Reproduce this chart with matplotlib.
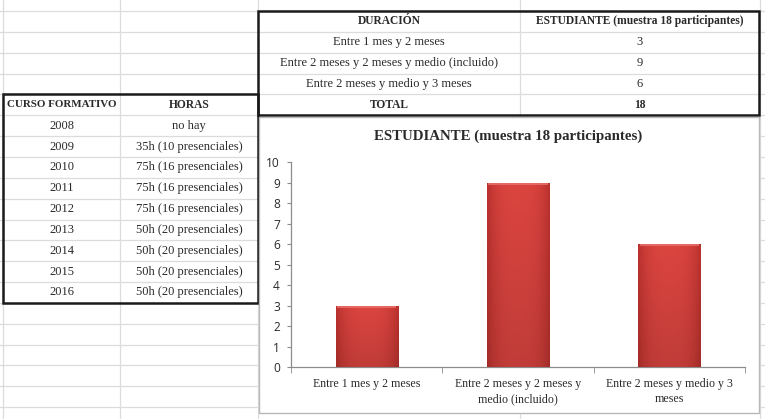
import numpy as np
import matplotlib
matplotlib.use("Agg")
import matplotlib.pyplot as plt
from matplotlib.patches import Rectangle

# ---------------- data ----------------
curso_years = ["2008", "2009", "2010", "2011", "2012", "2013", "2014", "2015", "2016"]
curso_horas = ["no hay", "35h (10 presenciales)", "75h (16 presenciales)", "75h (16 presenciales)",
               "75h (16 presenciales)", "50h (20 presenciales)", "50h (20 presenciales)",
               "50h (20 presenciales)", "50h (20 presenciales)"]
left_headers = ["CURSO FORMATIVO", "HORAS"]

duracion = ["Entre 1 mes y 2 meses", "Entre 2 meses y 2 meses y medio (incluido)",
            "Entre 2 meses y medio y 3 meses"]
estudiantes = [3, 9, 6]
total_label = "TOTAL"
total_value = 18
right_headers = ["DURACIÓN", "ESTUDIANTE (muestra 18 participantes)"]

chart_title = "ESTUDIANTE (muestra 18 participantes)"
chart_categories = ["Entre 1 mes y 2 meses", "Entre 2 meses y 2 meses y\nmedio (incluido)",
                    "Entre 2 meses y medio y 3\nmeses"]
y_ticks = list(range(0, 11))

# ---------------- figure ----------------
W, H = 765, 419
fig = plt.figure(figsize=(W / 100, H / 100), dpi=100)
bg = fig.add_axes([0, 0, 1, 1])
bg.set_xlim(0, W)
bg.set_ylim(H, 0)
bg.axis("off")

SERIF = ["Liberation Serif", "DejaVu Serif"]
TXT = "#2a2a2a"
GRID = "#DADCDD"
FS = 9.0
FSB = 8.3

# spreadsheet grid
row0, step = 11.0, 20.85
for i in range(0, 20):
    y = row0 + i * step
    bg.plot([0, W], [y, y], color=GRID, lw=0.9, zorder=0)
for x in [3, 120, 258, 520, 760]:
    bg.plot([x, x], [0, H], color=GRID, lw=0.9, zorder=0)

# ---- right table ----
rx0, rx1, rmid = 258, 759, 520
ry = [row0 + i * step for i in range(6)]
bg.add_patch(Rectangle((rx0, ry[0]), rx1 - rx0, ry[5] - ry[0], facecolor="white", edgecolor="none", zorder=1))
for y in ry[1:5]:
    bg.plot([rx0, rx1], [y, y], color=GRID, lw=0.9, zorder=2)
bg.plot([rmid, rmid], [ry[0], ry[5]], color=GRID, lw=0.9, zorder=2)
bg.add_patch(Rectangle((rx0, ry[0]), rx1 - rx0, ry[5] - ry[0], facecolor="none", edgecolor="#1a1a1a", lw=1.8, zorder=4))
cA, cB = (rx0 + rmid) / 2, (rmid + rx1) / 2
bg.text(cA, (ry[0] + ry[1]) / 2, right_headers[0], ha="center", va="center", family=SERIF, fontsize=FSB, weight="bold", color=TXT, zorder=5)
bg.text(cB, (ry[0] + ry[1]) / 2, right_headers[1], ha="center", va="center", family=SERIF, fontsize=FSB, weight="bold", color=TXT, zorder=5)
for i, (d, v) in enumerate(zip(duracion, estudiantes)):
    yc = (ry[i + 1] + ry[i + 2]) / 2
    bg.text(cA, yc, d, ha="center", va="center", family=SERIF, fontsize=FS, color=TXT, zorder=5)
    bg.text(cB, yc, str(v), ha="center", va="center", family=SERIF, fontsize=FS, color=TXT, zorder=5)
yc = (ry[4] + ry[5]) / 2
bg.text(cA, yc, total_label, ha="center", va="center", family=SERIF, fontsize=FSB, weight="bold", color=TXT, zorder=5)
bg.text(cB, yc, str(total_value), ha="center", va="center", family=SERIF, fontsize=FSB, weight="bold", color=TXT, zorder=5)

# ---- left table ----
lx0, lx1, lmid = 3, 258, 120
ly = [row0 + (4 + i) * step for i in range(11)]
bg.add_patch(Rectangle((lx0, ly[0]), lx1 - lx0, ly[10] - ly[0], facecolor="white", edgecolor="none", zorder=1))
for y in ly[1:10]:
    bg.plot([lx0, lx1], [y, y], color=GRID, lw=0.9, zorder=2)
bg.plot([lmid, lmid], [ly[0], ly[10]], color=GRID, lw=0.9, zorder=2)
bg.add_patch(Rectangle((lx0, ly[0]), lx1 - lx0, ly[10] - ly[0], facecolor="none", edgecolor="#1a1a1a", lw=1.8, zorder=4))
lA, lB = (lx0 + lmid) / 2, (lmid + lx1) / 2
bg.text(lA, (ly[0] + ly[1]) / 2, left_headers[0], ha="center", va="center", family=SERIF, fontsize=7.9, weight="bold", color=TXT, zorder=5)
bg.text(lB, (ly[0] + ly[1]) / 2, left_headers[1], ha="center", va="center", family=SERIF, fontsize=FSB, weight="bold", color=TXT, zorder=5)
for i, (yr, hr) in enumerate(zip(curso_years, curso_horas)):
    yc = (ly[i + 1] + ly[i + 2]) / 2
    bg.text(lA, yc, yr, ha="center", va="center", family=SERIF, fontsize=FS, color=TXT, zorder=5)
    bg.text(lB, yc, hr, ha="center", va="center", family=SERIF, fontsize=FS, color=TXT, zorder=5)

# ---- chart box ----
cx0, cx1, cy0, cy1 = 259, 759, 117, 413
bg.add_patch(Rectangle((cx0, cy0), cx1 - cx0, cy1 - cy0, facecolor="white", edgecolor="#B8B8B8", lw=1.0, zorder=6))
bg.text((cx0 + cx1) / 2 - 1, 136, chart_title, ha="center", va="center", family=SERIF, fontsize=10.7, weight="bold", color=TXT, zorder=7)

# ---- chart axes ----
ax_l, ax_r, ax_b, ax_t = 291, 745, 367, 162
ax = fig.add_axes([ax_l / W, (H - ax_b) / H, (ax_r - ax_l) / W, (ax_b - ax_t) / H])
ax.set_zorder(10)
ax.patch.set_alpha(0)
x = np.arange(len(chart_categories))
ax.set_xlim(-0.5, len(chart_categories) - 0.5)
ax.set_ylim(0, 10)

bars = ax.bar(x, estudiantes, width=0.41, color="#C93531", edgecolor="#8E1E1B", lw=0.6, zorder=3)
# bevel-like gradient fill clipped to bars
gx = np.linspace(0, 1, 64)
prof = 1 - 0.55 * (np.abs(gx - 0.5) * 2) ** 3
c_dark = np.array([0.62, 0.13, 0.12])
c_light = np.array([0.86, 0.27, 0.25])
grad = c_dark[None, :] + (c_light - c_dark)[None, :] * prof[:, None]
img = np.tile(grad[None, :, :], (40, 1, 1))
vy = np.linspace(0, 1, 40)
shade = 0.88 + 0.12 * vy
img = img * shade[:, None, None]
for b in bars:
    x0, w, h = b.get_x(), b.get_width(), b.get_height()
    im = ax.imshow(img, extent=[x0, x0 + w, 0, h], origin="lower", aspect="auto", zorder=3.5, interpolation="bilinear")
    im.set_clip_path(b)
    ax.plot([x0 + 0.01, x0 + w - 0.01], [h - 0.06, h - 0.06], color="#E8706B", lw=1.2, zorder=4, solid_capstyle="butt")

for s in ["top", "right"]:
    ax.spines[s].set_visible(False)
for s in ["left", "bottom"]:
    ax.spines[s].set_color("#8C8C8C")
    ax.spines[s].set_linewidth(0.9)
ax.set_yticks(y_ticks)
ax.set_yticklabels([str(t) for t in y_ticks], family=["Open Sans", "DejaVu Sans"], fontsize=8.6, color=TXT)
ax.tick_params(axis="y", length=3, color="#8C8C8C", pad=5)
ax.set_xticks(x)
ax.set_xticklabels(chart_categories, family=SERIF, fontsize=8.6, color=TXT, linespacing=1.3)
ax.tick_params(axis="x", length=0, pad=8)
ax.set_xticks([-0.5, 0.5, 1.5, 2.5], minor=True)
ax.tick_params(axis="x", which="minor", length=4, color="#8C8C8C")

fig.savefig("out.png", dpi=100)
